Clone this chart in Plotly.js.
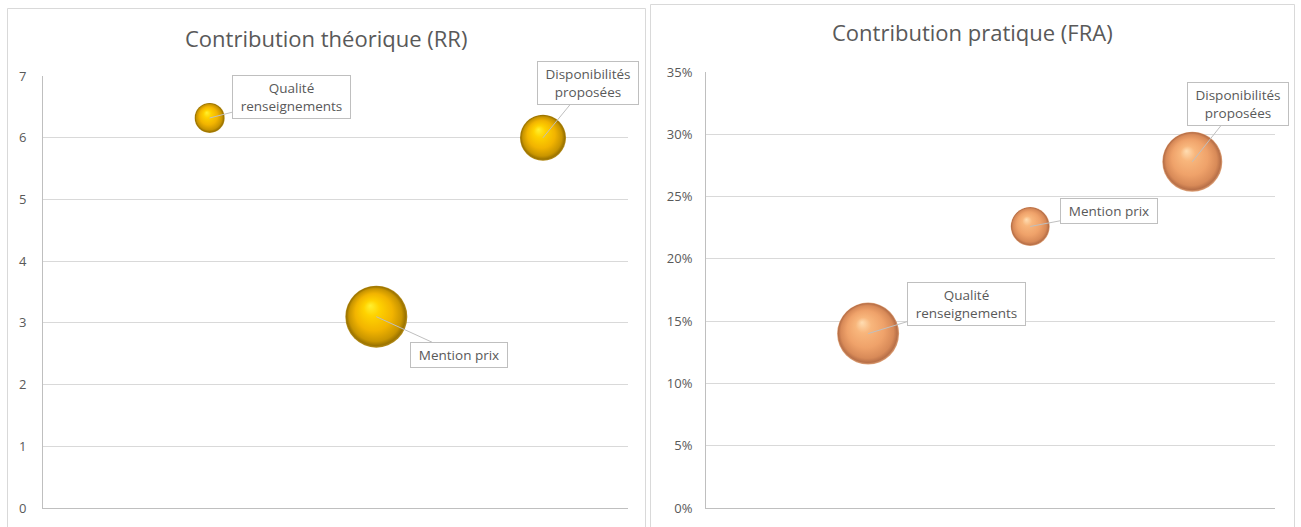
<!DOCTYPE html>
<html>
<head>
<meta charset="utf-8">
<script src="https://cdn.plot.ly/plotly-3.0.1.min.js"></script>
<style>
  html, body { margin: 0; padding: 0; background: #ffffff; }
  #chart { width: 1301px; height: 527px; }
</style>
</head>
<body>
<div id="chart"></div>
<script>
// ---------------- DATA ----------------
var categories = ["Qualité renseignements", "Mention prix", "Disponibilités proposées"];
var labelText = ["Qualité<br>renseignements", "Mention prix", "Disponibilités<br>proposées"];
var xPositions = [1, 2, 3];

// Left chart: Contribution théorique (RR)
var rrTitle = "Contribution théorique (RR)";
var rrValues = [6.32, 3.1, 6.0];
var rrBubble = [0.90, 3.84, 2.12];
var rrTicks = [0, 1, 2, 3, 4, 5, 6, 7];

// Right chart: Contribution pratique (FRA)
var fraTitle = "Contribution pratique (FRA)";
var fraValues = [0.140, 0.226, 0.278];
var fraBubble = [3.84, 1.52, 3.60];
var fraTicks = [0, 0.05, 0.10, 0.15, 0.20, 0.25, 0.30, 0.35];

// ---------------- LAYOUT HELPERS ----------------
var W = 1301, H = 527;
function px(x) { return x / W; }
function py(y) { return 1 - y / H; }

var textColor = "#595959";
var gridColor = "#d9d9d9";
var fontFam = "'Open Sans', 'Noto Sans', sans-serif";

var bubbleSizeRef = 0.002;

var traces = [
  {
    type: "scatter", mode: "markers",
    x: xPositions, y: rrValues, text: categories,
    xaxis: "x", yaxis: "y",
    marker: { size: rrBubble, sizemode: "area", sizeref: bubbleSizeRef, color: "#FFC000", opacity: 1, line: { width: 0 } },
    hoverinfo: "skip", cliponaxis: false, showlegend: false
  },
  {
    type: "scatter", mode: "markers",
    x: xPositions, y: fraValues, text: categories,
    xaxis: "x2", yaxis: "y2",
    marker: { size: fraBubble, sizemode: "area", sizeref: bubbleSizeRef, color: "#F0A468", opacity: 1, line: { width: 0 } },
    hoverinfo: "skip", cliponaxis: false, showlegend: false
  }
];

// callout offsets (pixels) and box sizes for each label
var rrCallouts = [
  { ax: 82, ay: -21, w: 111, h: 36 },
  { ax: 83, ay: 38, w: 90, h: 18 },
  { ax: 45, ay: -55, w: 94, h: 36 }
];
var fraCallouts = [
  { ax: 98, ay: -30, w: 111, h: 36 },
  { ax: 79, ay: -15, w: 90, h: 18 },
  { ax: 46, ay: -58, w: 94, h: 36 }
];

var annotations = [];
function addCallouts(xref, yref, yvals, conf) {
  for (var i = 0; i < xPositions.length; i++) {
    annotations.push({
      xref: xref, yref: yref, x: xPositions[i], y: yvals[i],
      text: labelText[i], showarrow: true, arrowhead: 0, arrowwidth: 1,
      arrowcolor: "#bfbfbf", standoff: 0, startstandoff: 0,
      ax: conf[i].ax, ay: conf[i].ay,
      width: conf[i].w, height: conf[i].h, borderpad: 3,
      bgcolor: "#ffffff", bordercolor: "#bfbfbf", borderwidth: 1,
      font: { family: fontFam, size: 13.5, color: textColor }, align: "center"
    });
  }
}
addCallouts("x", "y", rrValues, rrCallouts);
addCallouts("x2", "y2", fraValues, fraCallouts);

annotations.push({
  xref: "paper", yref: "paper", x: px(326), y: py(38), xanchor: "center", yanchor: "middle",
  text: rrTitle, showarrow: false, font: { family: fontFam, size: 22, color: textColor }
});
annotations.push({
  xref: "paper", yref: "paper", x: px(972), y: py(32), xanchor: "center", yanchor: "middle",
  text: fraTitle, showarrow: false, font: { family: fontFam, size: 22, color: textColor }
});

var shapes = [
  { type: "rect", xref: "paper", yref: "paper", x0: px(7.5), x1: px(645.5), y0: py(560), y1: py(8.5),
    line: { color: "#d9d9d9", width: 1 }, fillcolor: "rgba(0,0,0,0)", layer: "below" },
  { type: "rect", xref: "paper", yref: "paper", x0: px(650.5), x1: px(1294.5), y0: py(560), y1: py(4.5),
    line: { color: "#d9d9d9", width: 1 }, fillcolor: "rgba(0,0,0,0)", layer: "below" }
];

function xAxis(d0, d1, r1, anchor) {
  return {
    domain: [px(d0), px(d1)], range: [0, r1], anchor: anchor,
    showgrid: false, zeroline: false, showticklabels: false, ticks: "",
    showline: true, linecolor: "#bfbfbf", linewidth: 1, fixedrange: true
  };
}
function yAxis(d0, d1, range, ticks, fmt, anchor, standoff) {
  return {
    domain: [py(d0), py(d1)], range: range, anchor: anchor,
    tickvals: ticks, tickformat: fmt, showgrid: true, gridcolor: gridColor, gridwidth: 1,
    zeroline: false, showline: true, linecolor: "#bfbfbf", linewidth: 1,
    ticks: "", ticklen: 0, ticklabelstandoff: standoff,
    tickfont: { family: fontFam, size: 13, color: textColor }, fixedrange: true
  };
}

var layout = {
  width: W, height: H,
  margin: { l: 0, r: 0, t: 0, b: 0 },
  paper_bgcolor: "#ffffff", plot_bgcolor: "rgba(0,0,0,0)",
  showlegend: false,
  xaxis: xAxis(43, 628, 3.51, "y"),
  yaxis: yAxis(508, 76, [0, 7], rrTicks, "d", "x", 13),
  xaxis2: xAxis(706, 1275, 3.51, "y2"),
  yaxis2: yAxis(508, 72, [0, 0.35], fraTicks, ".0%", "x2", 10),
  annotations: annotations,
  shapes: shapes,
  hovermode: false
};

function addGradient(defs, id, stops) {
  var ns = "http://www.w3.org/2000/svg";
  var g = document.createElementNS(ns, "radialGradient");
  g.setAttribute("id", id);
  g.setAttribute("cx", "0.5"); g.setAttribute("cy", "0.5"); g.setAttribute("r", "0.5");
  g.setAttribute("fx", "0.4"); g.setAttribute("fy", "0.32");
  stops.forEach(function (s) {
    var st = document.createElementNS(ns, "stop");
    st.setAttribute("offset", s[0]);
    st.setAttribute("stop-color", s[1]);
    g.appendChild(st);
  });
  defs.appendChild(g);
}

Plotly.newPlot("chart", traces, layout, { displayModeBar: false, staticPlot: true }).then(function (gd) {
  var svg = gd.querySelector("svg.main-svg");
  var defs = svg.querySelector("defs");
  addGradient(defs, "goldSphere", [["0", "#FFF030"], ["0.25", "#FFD200"], ["0.6", "#F2B400"], ["0.85", "#C99500"], ["0.95", "#9C7400"], ["1", "#B89020"]]);
  addGradient(defs, "peachSphere", [["0", "#FFDDB2"], ["0.25", "#F8B67C"], ["0.6", "#EFA26A"], ["0.85", "#D88A58"], ["0.95", "#B87048"], ["1", "#E0A47A"]]);
  var groups = gd.querySelectorAll(".scatterlayer .trace");
  groups.forEach(function (grp, i) {
    grp.querySelectorAll("path.point").forEach(function (p) {
      p.style.fill = i === 0 ? "url(#goldSphere)" : "url(#peachSphere)";
      p.style.opacity = 1;
    });
  });
});
</script>
</body>
</html>
